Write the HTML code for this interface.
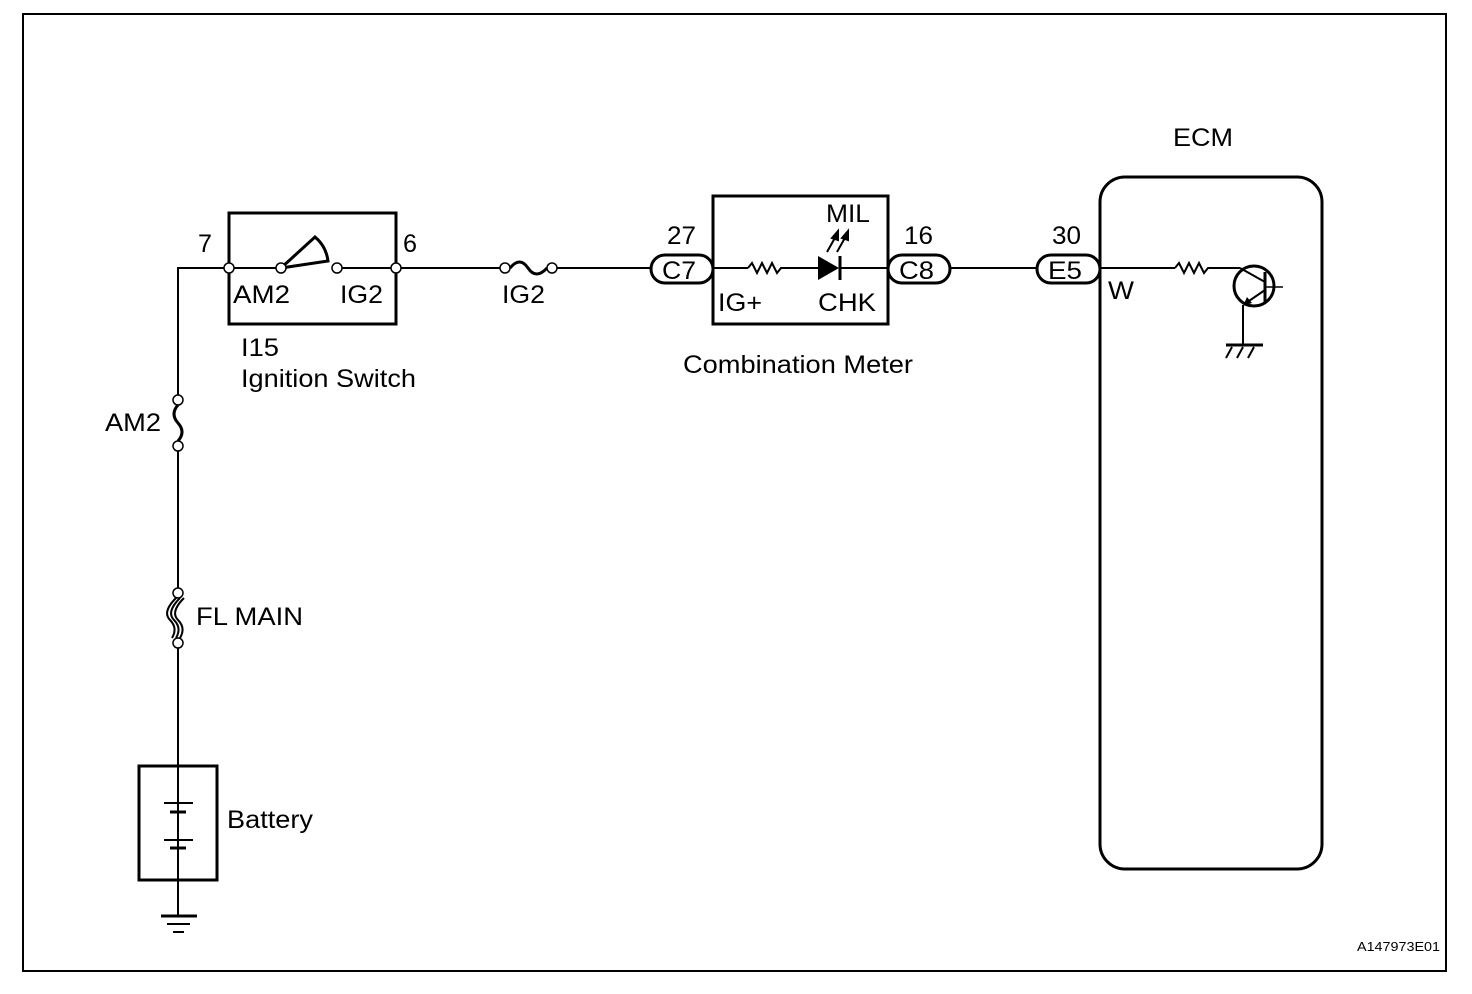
<!DOCTYPE html>
<html><head><style>body{margin:0;background:#fff}svg{display:block}text{font-family:"Liberation Sans",Arial,sans-serif;fill:#000}</style></head><body>
<svg width="1472" height="994" viewBox="0 0 1472 994" xmlns="http://www.w3.org/2000/svg">
<rect x="0" y="0" width="1472" height="994" fill="#fff"/>
<rect x="23" y="14" width="1423" height="957" fill="none" stroke="#000" stroke-width="2"/>
<g fill="none" stroke="#000" stroke-width="2">
<polyline points="178,395 178,268 224,268"/>
<line x1="234" y1="268" x2="276" y2="268"/>
<line x1="342" y1="268" x2="391" y2="268"/>
<line x1="401" y1="268" x2="500" y2="268"/>
<line x1="557" y1="268" x2="650" y2="268"/>
<line x1="713" y1="268" x2="748" y2="268"/>
<polyline points="748,268 752,263 757,273 762,263 767,273 772,263 777,273 781,268 818,268"/>
<line x1="840" y1="268" x2="888" y2="268"/>
<line x1="950" y1="268" x2="1036" y2="268"/>
<line x1="1100" y1="268" x2="1175" y2="268"/>
<polyline points="1175,268 1179,263 1184,273 1189,263 1194,273 1199,263 1204,273 1208,268 1240,268"/>
<line x1="178" y1="451" x2="178" y2="588"/>
<line x1="178" y1="648" x2="178" y2="915"/>
</g>
<rect x="229" y="213" width="167" height="111" fill="none" stroke="#000" stroke-width="3"/>
<path d="M281,268 L315,237 Q326,246 328,261 Z" fill="none" stroke="#000" stroke-width="3"/>
<g fill="#fff" stroke="#000" stroke-width="1.5">
<circle cx="229" cy="268" r="5"/><circle cx="281" cy="268" r="5"/><circle cx="337" cy="268" r="5"/><circle cx="396" cy="268" r="5"/>
<circle cx="505" cy="268" r="5"/><circle cx="552" cy="268" r="5"/>
<circle cx="178" cy="400" r="5"/><circle cx="178" cy="446" r="5"/>
<circle cx="178" cy="593" r="5"/><circle cx="178" cy="643" r="5"/>
</g>
<path d="M510,268 Q520,256 528,268 Q536,280 547,268" fill="none" stroke="#000" stroke-width="3"/>
<path d="M178,405 Q170,414 178,423 Q186,432 178,441" fill="none" stroke="#000" stroke-width="3"/>
<g fill="none" stroke="#000" stroke-width="2">
<path d="M180,598 Q166,612 174,620 Q182,628 176,638"/>
<path d="M176,598 Q162,612 170,620 Q178,628 172,638"/>
<path d="M184,598 Q170,612 178,620 Q186,628 180,638"/>
</g>
<rect x="713" y="196" width="175" height="128" fill="none" stroke="#000" stroke-width="3"/>
<polygon points="818,256 818,280 839,268" fill="#000"/>
<line x1="840" y1="256" x2="840" y2="280" stroke="#000" stroke-width="3"/>
<g stroke="#000" stroke-width="2" fill="#000">
<line x1="827" y1="252" x2="836" y2="236"/><polygon points="838,231 832,238 838,240"/>
<line x1="837" y1="252" x2="846" y2="236"/><polygon points="848,231 842,238 848,240"/>
</g>
<g fill="none" stroke="#000" stroke-width="3">
<rect x="651" y="255" width="62" height="28" rx="14"/>
<rect x="888" y="255" width="62" height="28" rx="14"/>
<rect x="1037" y="255" width="63" height="28" rx="14"/>
<rect x="1100" y="177" width="222" height="692" rx="25"/>
<rect x="139" y="766" width="78" height="114"/>
</g>
<circle cx="1254" cy="286" r="20" fill="none" stroke="#000" stroke-width="3"/>
<line x1="1265" y1="272" x2="1265" y2="302" stroke="#000" stroke-width="3"/>
<line x1="1240" y1="268" x2="1265" y2="282" stroke="#000" stroke-width="2"/>
<line x1="1265" y1="290" x2="1246" y2="303" stroke="#000" stroke-width="2"/>
<polygon points="1243,306 1247,297 1252,303" fill="#000"/>
<line x1="1265" y1="287" x2="1283" y2="287" stroke="#000" stroke-width="1.5"/>
<line x1="1243" y1="305" x2="1243" y2="345" stroke="#000" stroke-width="2"/>
<line x1="1226" y1="345" x2="1263" y2="345" stroke="#000" stroke-width="3"/>
<g stroke="#000" stroke-width="2"><line x1="1232" y1="347" x2="1226" y2="358"/><line x1="1243" y1="347" x2="1237" y2="358"/><line x1="1254" y1="347" x2="1248" y2="358"/></g>
<g stroke="#000" stroke-width="2">
<line x1="178" y1="766" x2="178" y2="803"/>
<line x1="164" y1="803" x2="193" y2="803"/>
<line x1="170" y1="812" x2="186" y2="812" stroke-width="3"/>
<line x1="178" y1="812" x2="178" y2="822"/>
<line x1="178" y1="828" x2="178" y2="836"/>
<line x1="164" y1="840" x2="193" y2="840"/>
<line x1="170" y1="848" x2="186" y2="848" stroke-width="3"/>
<line x1="178" y1="848" x2="178" y2="915"/>
<line x1="161" y1="916" x2="197" y2="916" stroke-width="3"/>
<line x1="167" y1="924" x2="190" y2="924"/>
<line x1="173" y1="932" x2="184" y2="932" stroke-width="2"/>
</g>
<g font-size="25" lengthAdjust="spacingAndGlyphs">
<text x="198" y="252" textLength="14" lengthAdjust="spacingAndGlyphs">7</text>
<text x="403" y="252" textLength="14" lengthAdjust="spacingAndGlyphs">6</text>
<text x="233" y="303" textLength="57" lengthAdjust="spacingAndGlyphs">AM2</text>
<text x="340" y="303" textLength="43" lengthAdjust="spacingAndGlyphs">IG2</text>
<text x="502" y="303" textLength="43" lengthAdjust="spacingAndGlyphs">IG2</text>
<text x="241" y="356" textLength="38" lengthAdjust="spacingAndGlyphs">I15</text>
<text x="241" y="387" textLength="175" lengthAdjust="spacingAndGlyphs">Ignition Switch</text>
<text x="667" y="244" textLength="29" lengthAdjust="spacingAndGlyphs">27</text>
<text x="904" y="244" textLength="29" lengthAdjust="spacingAndGlyphs">16</text>
<text x="1052" y="244" textLength="29" lengthAdjust="spacingAndGlyphs">30</text>
<text x="662" y="279" textLength="34" lengthAdjust="spacingAndGlyphs">C7</text>
<text x="899" y="279" textLength="35" lengthAdjust="spacingAndGlyphs">C8</text>
<text x="1048" y="279" textLength="34" lengthAdjust="spacingAndGlyphs">E5</text>
<text x="826" y="222" textLength="44" lengthAdjust="spacingAndGlyphs">MIL</text>
<text x="718" y="311" textLength="44" lengthAdjust="spacingAndGlyphs">IG+</text>
<text x="818" y="311" textLength="58" lengthAdjust="spacingAndGlyphs">CHK</text>
<text x="683" y="373" textLength="230" lengthAdjust="spacingAndGlyphs">Combination Meter</text>
<text x="1173" y="146" textLength="60" lengthAdjust="spacingAndGlyphs">ECM</text>
<text x="1108" y="299" textLength="26" lengthAdjust="spacingAndGlyphs">W</text>
<text x="105" y="431" textLength="56" lengthAdjust="spacingAndGlyphs">AM2</text>
<text x="196" y="625" textLength="107" lengthAdjust="spacingAndGlyphs">FL MAIN</text>
<text x="227" y="828" textLength="86" lengthAdjust="spacingAndGlyphs">Battery</text>
</g>
<text x="1357" y="951" font-size="13" textLength="83" lengthAdjust="spacingAndGlyphs">A147973E01</text>
</svg>
</body></html>
